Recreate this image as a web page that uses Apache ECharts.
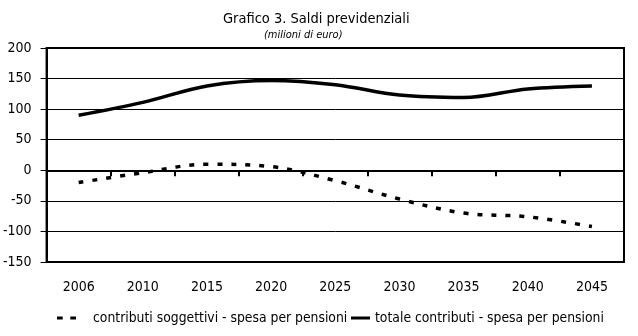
<!DOCTYPE html>
<html>
<head>
<meta charset="utf-8">
<script src="https://cdn.jsdelivr.net/npm/echarts@6/dist/echarts.min.js"></script>
<style>
html,body{margin:0;padding:0;background:#fff;}
#chart{width:638px;height:336px;}
</style>
</head>
<body>
<div id="chart"></div>
<script>
const categories = ['2006','2010','2015','2020','2025','2030','2035','2040','2045'];
const contributiSoggettivi = [-20, -4, 10, 6, -17, -47, -70, -76, -92];
const totaleContributi = [90, 111, 138, 147, 140, 123, 119, 133, 138];
const seriesNames = ['contributi soggettivi - spesa per pensioni', 'totale contributi - spesa per pensioni'];

const FONT = '"DejaVu Sans Condensed", "Liberation Sans Narrow", sans-serif';
const chart = echarts.init(document.getElementById('chart'));
chart.setOption({
  animation: false,
  backgroundColor: '#fff',
  title: [
    {text: 'Grafico 3. Saldi previdenziali', left: 218, top: 7,
     textStyle: {fontFamily: FONT, fontSize: 14.5, fontWeight: 'normal', color: '#000'}},
    {text: '(milioni di euro)', left: 259, top: 25,
     textStyle: {fontFamily: FONT, fontSize: 11, fontStyle: 'italic', fontWeight: 'normal', color: '#000'}}
  ],
  grid: {left: 42, right: 14, top: 48, bottom: 74, show: true, borderColor: '#000', borderWidth: 2, backgroundColor: 'transparent'},
  legend: [
    {data: [{name: seriesNames[0], icon: 'path://M0,0h6v3h-6zM14,0h6v3h-6z'}], left: 57, top: 311,
     itemWidth: 19, itemHeight: 3, padding: 0,
     textStyle: {fontFamily: FONT, fontSize: 13.8, color: '#000', padding: [0,0,0,12]}},
    {data: [{name: seriesNames[1], icon: 'rect'}], left: 351, top: 311,
     itemWidth: 19, itemHeight: 3, padding: 0,
     textStyle: {fontFamily: FONT, fontSize: 13.8, color: '#000'}}
  ],
  xAxis: {
    type: 'category', data: categories, boundaryGap: true,
    axisLine: {lineStyle: {color: '#000', width: 2}},
    axisTick: {show: true, length: 6, lineStyle: {color: '#000', width: 2}},
    axisLabel: {fontFamily: FONT, fontSize: 14, color: '#000', margin: 18}
  },
  yAxis: {
    type: 'value', min: -150, max: 200, interval: 50,
    axisLine: {show: true, lineStyle: {color: '#000', width: 2}},
    axisTick: {show: true, length: 6, lineStyle: {color: '#000', width: 1}},
    axisLabel: {fontFamily: FONT, fontSize: 14, color: '#000', margin: 15},
    splitLine: {show: true, lineStyle: {color: '#000', width: 1}}
  },
  series: [
    {name: seriesNames[0], type: 'line', data: contributiSoggettivi, smooth: 0.35, symbol: 'none',
     lineStyle: {color: '#000', width: 3.5, type: [5, 9]}, itemStyle: {color: '#000'}},
    {name: seriesNames[1], type: 'line', data: totaleContributi, smooth: 0.35, symbol: 'none',
     lineStyle: {color: '#000', width: 3.5}, itemStyle: {color: '#000'}}
  ]
});
</script>
</body>
</html>
